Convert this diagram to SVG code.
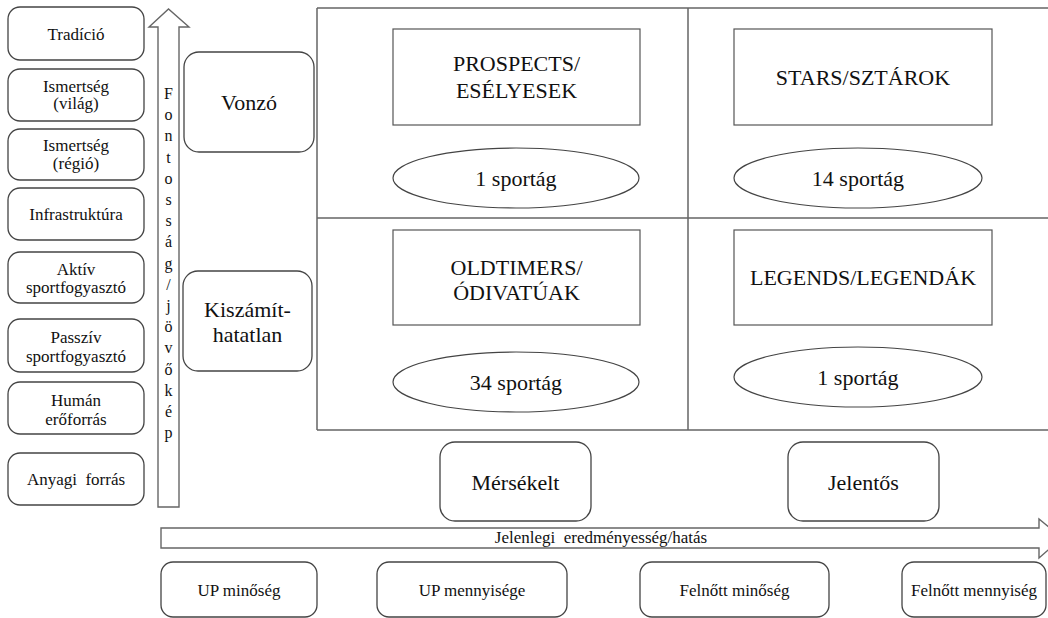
<svg xmlns="http://www.w3.org/2000/svg" width="1048" height="618" viewBox="0 0 1048 618" font-family="'Liberation Serif', 'Times New Roman', 'DejaVu Serif', serif">
<style>
text{font-family:'Liberation Serif','Times New Roman','DejaVu Serif',serif;fill:#111;text-anchor:middle}
.rb{fill:#fff;stroke:#444;stroke-width:1.3}
.sq{fill:#fff;stroke:#555;stroke-width:1.2}
.el{fill:#fff;stroke:#444;stroke-width:1.2}
.grid{stroke:#666;stroke-width:1.5;fill:none}
.arr{fill:#fff;stroke:#666;stroke-width:1.4}
.s17{font-size:17px}
.s22{font-size:22px}
.pre{white-space:pre}
</style>
<rect width="1048" height="618" fill="#fff"/>

<g id="grid">
<path class="grid" d="M317,8H1048M317,218H1048M317,430H1048M317,8V430M688,8V430"/>
</g>

<g id="connectors">
<polygon id="arrow-v" class="arr" points="158,507 158,27 149,27 168.5,9 189,27 179,27 179,507"/>
<polygon id="arrow-h" class="arr" points="161,528 1039,528 1039,519 1062,538 1039,558 1039,548 161,548"/>
<text class="s17 pre" x="601" y="543">Jelenlegi  eredményesség/hatás</text>
<text style="font-size:16px">
<tspan x="168.5" y="99">F</tspan><tspan x="168.5" dy="21.2">o</tspan><tspan x="168.5" dy="21.2">n</tspan><tspan x="168.5" dy="21.2">t</tspan><tspan x="168.5" dy="21.2">o</tspan><tspan x="168.5" dy="21.2">s</tspan><tspan x="168.5" dy="21.2">s</tspan><tspan x="168.5" dy="21.2">á</tspan><tspan x="168.5" dy="21.2">g</tspan><tspan x="168.5" dy="21.2">/</tspan><tspan x="168.5" dy="21.2">j</tspan><tspan x="168.5" dy="21.2">ö</tspan><tspan x="168.5" dy="21.2">v</tspan><tspan x="168.5" dy="21.2">ő</tspan><tspan x="168.5" dy="21.2">k</tspan><tspan x="168.5" dy="21.2">é</tspan><tspan x="168.5" dy="21.2">p</tspan>
</text>
</g>

<g id="tradicio"><rect class="rb" x="8" y="7" width="136" height="53" rx="12"/><text class="s17" x="76" y="40">Tradíció</text></g>
<g id="ismertseg-vilag"><rect class="rb" x="8" y="69" width="136" height="52" rx="12"/><text class="s17" x="76" y="92">Ismertség</text><text class="s17" x="76" y="109">(világ)</text></g>
<g id="ismertseg-regio"><rect class="rb" x="8" y="129" width="136" height="51" rx="12"/><text class="s17" x="76" y="151">Ismertség</text><text class="s17" x="76" y="169">(régió)</text></g>
<g id="infrastruktura"><rect class="rb" x="8" y="188" width="136" height="52" rx="12"/><text class="s17" x="76" y="220">Infrastruktúra</text></g>
<g id="aktiv"><rect class="rb" x="8" y="252" width="136" height="51" rx="12"/><text class="s17" x="76" y="275">Aktív</text><text class="s17" x="76" y="293">sportfogyasztó</text></g>
<g id="passziv"><rect class="rb" x="8" y="319" width="136" height="53" rx="12"/><text class="s17" x="76" y="343">Passzív</text><text class="s17" x="76" y="362">sportfogyasztó</text></g>
<g id="human"><rect class="rb" x="8" y="382" width="136" height="52" rx="12"/><text class="s17" x="76" y="406">Humán</text><text class="s17" x="76" y="425">erőforrás</text></g>
<g id="anyagi"><rect class="rb" x="8" y="453" width="136" height="52" rx="12"/><text class="s17 pre" x="76" y="485">Anyagi  forrás</text></g>

<g id="vonzo"><rect class="rb" x="184" y="52" width="130" height="100" rx="15"/><text class="s22" x="249" y="110">Vonzó</text></g>
<g id="kiszamithatatlan"><rect class="rb" x="183" y="271" width="129" height="100" rx="15"/><text class="s22" x="247.5" y="317">Kiszámít-</text><text class="s22" x="247.5" y="342">hatatlan</text></g>

<g id="prospects"><rect class="sq" x="393" y="29" width="247" height="96"/><text class="s22" x="516.5" y="71">PROSPECTS/</text><text class="s22" x="516.5" y="98">ESÉLYESEK</text>
<ellipse class="el" cx="516" cy="178" rx="123" ry="30"/><text class="s22" x="516" y="186">1 sportág</text></g>
<g id="stars"><rect class="sq" x="734" y="29" width="258" height="96"/><text class="s22" x="863" y="85">STARS/SZTÁROK</text>
<ellipse class="el" cx="858" cy="178" rx="124" ry="30"/><text class="s22" x="858" y="186">14 sportág</text></g>
<g id="oldtimers"><rect class="sq" x="393" y="230" width="247" height="95"/><text class="s22" x="516.5" y="275">OLDTIMERS/</text><text class="s22" x="516.5" y="300">ÓDIVATÚAK</text>
<ellipse class="el" cx="516" cy="382" rx="123" ry="30"/><text class="s22" x="516" y="390">34 sportág</text></g>
<g id="legends"><rect class="sq" x="734" y="230" width="258" height="95"/><text class="s22" x="863" y="285">LEGENDS/LEGENDÁK</text>
<ellipse class="el" cx="858" cy="377" rx="124" ry="30"/><text class="s22" x="858" y="385">1 sportág</text></g>

<g id="merseklet"><rect class="rb" x="440" y="442" width="151" height="79" rx="15"/><text class="s22" x="515.5" y="490">Mérsékelt</text></g>
<g id="jelentos"><rect class="rb" x="788" y="442" width="151" height="79" rx="15"/><text class="s22" x="863.5" y="490">Jelentős</text></g>

<g id="up-minoseg"><rect class="rb" x="161" y="562" width="156" height="55" rx="12"/><text class="s17" x="239" y="596">UP minőség</text></g>
<g id="up-mennyisege"><rect class="rb" x="377" y="562" width="190" height="55" rx="12"/><text class="s17" x="472" y="596">UP mennyisége</text></g>
<g id="felnott-minoseg"><rect class="rb" x="640" y="562" width="189" height="55" rx="12"/><text class="s17" x="734.5" y="596">Felnőtt minőség</text></g>
<g id="felnott-mennyiseg"><rect class="rb" x="902" y="562" width="144" height="55" rx="12"/><text class="s17" x="974" y="596">Felnőtt mennyiség</text></g>
</svg>
